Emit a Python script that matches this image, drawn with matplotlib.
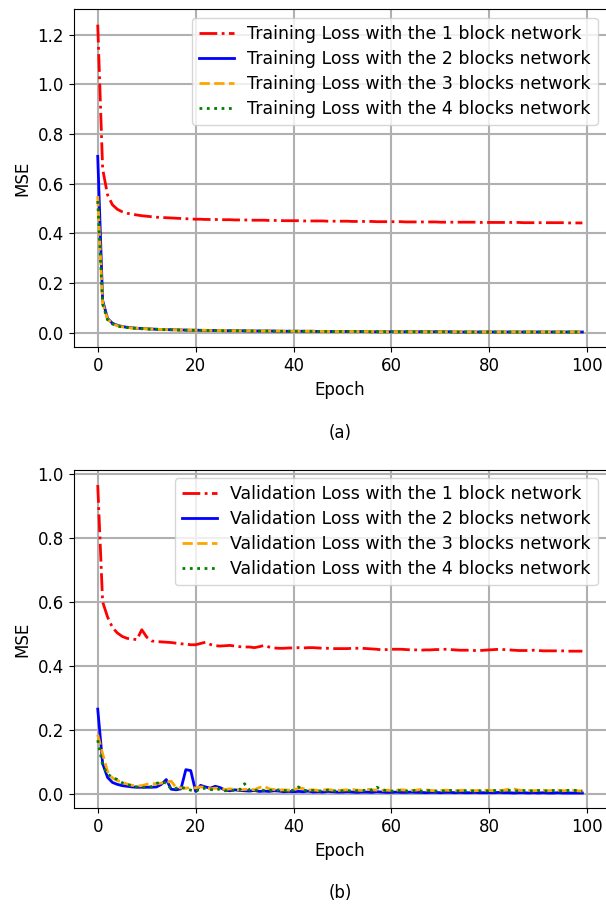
import numpy as np
import matplotlib
matplotlib.use("Agg")
import matplotlib.pyplot as plt

plt.rcParams["font.family"] = "DejaVu Sans"
plt.rcParams["font.size"] = 12

epochs = np.arange(100)

# training loss, one array per network size
train_1 = [1.24, 0.66, 0.555, 0.515, 0.497, 0.487, 0.481, 0.477, 0.474, 0.471,
           0.469, 0.467, 0.465, 0.464, 0.463, 0.462, 0.461, 0.460, 0.459, 0.458,
           0.457, 0.457, 0.456, 0.456, 0.456, 0.455, 0.455, 0.455, 0.454, 0.454,
           0.454, 0.453, 0.453, 0.453, 0.453, 0.452, 0.452, 0.452, 0.451, 0.451,
           0.451, 0.451, 0.450, 0.450, 0.450, 0.450, 0.450, 0.449, 0.449, 0.449,
           0.449, 0.449, 0.448, 0.448, 0.448, 0.448, 0.448, 0.447, 0.447, 0.447,
           0.447, 0.447, 0.447, 0.446, 0.446, 0.446, 0.446, 0.446, 0.446, 0.446,
           0.445, 0.445, 0.445, 0.445, 0.445, 0.445, 0.445, 0.445, 0.444, 0.444,
           0.444, 0.444, 0.444, 0.444, 0.444, 0.444, 0.444, 0.443, 0.443, 0.443,
           0.443, 0.443, 0.443, 0.443, 0.443, 0.443, 0.442, 0.442, 0.442, 0.442]
train_2 = [0.71, 0.13, 0.058, 0.038, 0.030, 0.025, 0.022, 0.020, 0.018, 0.017,
           0.016, 0.015, 0.014, 0.013, 0.013, 0.012, 0.012, 0.011, 0.011, 0.010,
           0.010, 0.010, 0.009, 0.009, 0.009, 0.009, 0.008, 0.008, 0.008, 0.008,
           0.008, 0.007, 0.007, 0.007, 0.007, 0.007, 0.007, 0.006, 0.006, 0.006,
           0.006, 0.006, 0.006, 0.006, 0.006, 0.005, 0.005, 0.005, 0.005, 0.005,
           0.005, 0.005, 0.005, 0.005, 0.005, 0.005, 0.004, 0.004, 0.004, 0.004,
           0.004, 0.004, 0.004, 0.004, 0.004, 0.004, 0.004, 0.004, 0.004, 0.004,
           0.004, 0.004, 0.004, 0.003, 0.003, 0.003, 0.003, 0.003, 0.003, 0.003,
           0.003, 0.003, 0.003, 0.003, 0.003, 0.003, 0.003, 0.003, 0.003, 0.003,
           0.003, 0.003, 0.003, 0.003, 0.003, 0.003, 0.003, 0.003, 0.003, 0.003]
train_3 = [0.55, 0.12, 0.055, 0.036, 0.028, 0.024, 0.021, 0.019, 0.018, 0.017,
           0.016, 0.015, 0.014, 0.013, 0.013, 0.012, 0.012, 0.011, 0.011, 0.011,
           0.010, 0.010, 0.010, 0.009, 0.009, 0.009, 0.009, 0.008, 0.008, 0.008,
           0.008, 0.008, 0.007, 0.007, 0.007, 0.007, 0.007, 0.007, 0.006, 0.006,
           0.006, 0.006, 0.006, 0.006, 0.006, 0.006, 0.005, 0.005, 0.005, 0.005,
           0.005, 0.005, 0.005, 0.005, 0.005, 0.005, 0.005, 0.004, 0.004, 0.004,
           0.004, 0.004, 0.004, 0.004, 0.004, 0.004, 0.004, 0.004, 0.004, 0.004,
           0.004, 0.004, 0.004, 0.004, 0.004, 0.003, 0.003, 0.003, 0.003, 0.003,
           0.003, 0.003, 0.003, 0.003, 0.003, 0.003, 0.003, 0.003, 0.003, 0.003,
           0.003, 0.003, 0.003, 0.003, 0.003, 0.003, 0.003, 0.003, 0.003, 0.003]
train_4 = [0.53, 0.115, 0.052, 0.035, 0.027, 0.023, 0.021, 0.019, 0.017, 0.016,
           0.015, 0.014, 0.014, 0.013, 0.012, 0.012, 0.011, 0.011, 0.010, 0.010,
           0.010, 0.009, 0.009, 0.009, 0.009, 0.008, 0.008, 0.008, 0.008, 0.008,
           0.007, 0.007, 0.007, 0.007, 0.007, 0.007, 0.006, 0.006, 0.006, 0.006,
           0.006, 0.006, 0.006, 0.006, 0.005, 0.005, 0.005, 0.005, 0.005, 0.005,
           0.005, 0.005, 0.005, 0.005, 0.005, 0.004, 0.004, 0.004, 0.004, 0.004,
           0.004, 0.004, 0.004, 0.004, 0.004, 0.004, 0.004, 0.004, 0.004, 0.004,
           0.004, 0.004, 0.003, 0.003, 0.003, 0.003, 0.003, 0.003, 0.003, 0.003,
           0.003, 0.003, 0.003, 0.003, 0.003, 0.003, 0.003, 0.003, 0.003, 0.003,
           0.003, 0.003, 0.003, 0.003, 0.003, 0.003, 0.003, 0.003, 0.003, 0.003]

# validation loss
val_1 = [0.965, 0.600, 0.553, 0.520, 0.503, 0.492, 0.486, 0.484, 0.482, 0.513,
         0.490, 0.478, 0.476, 0.475, 0.474, 0.473, 0.471, 0.469, 0.468, 0.466,
         0.466, 0.470, 0.474, 0.467, 0.463, 0.462, 0.463, 0.464, 0.462, 0.460,
         0.459, 0.459, 0.457, 0.460, 0.464, 0.459, 0.456, 0.455, 0.455, 0.456,
         0.456, 0.457, 0.456, 0.457, 0.457, 0.456, 0.455, 0.455, 0.454, 0.454,
         0.454, 0.454, 0.455, 0.455, 0.455, 0.454, 0.453, 0.452, 0.450, 0.451,
         0.452, 0.452, 0.452, 0.451, 0.450, 0.450, 0.449, 0.450, 0.450, 0.451,
         0.451, 0.452, 0.451, 0.450, 0.449, 0.449, 0.449, 0.448, 0.448, 0.449,
         0.450, 0.451, 0.452, 0.451, 0.450, 0.449, 0.448, 0.448, 0.448, 0.449,
         0.448, 0.447, 0.447, 0.447, 0.447, 0.447, 0.446, 0.446, 0.446, 0.446]
val_2 = [0.265, 0.095, 0.052, 0.036, 0.030, 0.026, 0.024, 0.022, 0.021, 0.021,
         0.021, 0.021, 0.022, 0.030, 0.045, 0.015, 0.013, 0.016, 0.076, 0.073,
         0.008, 0.027, 0.022, 0.018, 0.024, 0.020, 0.012, 0.010, 0.013, 0.011,
         0.010, 0.009, 0.011, 0.008, 0.009, 0.008, 0.010, 0.009, 0.007, 0.008,
         0.007, 0.008, 0.007, 0.009, 0.006, 0.007, 0.006, 0.008, 0.007, 0.006,
         0.006, 0.007, 0.006, 0.005, 0.006, 0.006, 0.005, 0.007, 0.006, 0.005,
         0.005, 0.006, 0.005, 0.005, 0.006, 0.005, 0.005, 0.004, 0.005, 0.005,
         0.004, 0.005, 0.005, 0.004, 0.005, 0.004, 0.004, 0.005, 0.004, 0.004,
         0.004, 0.004, 0.005, 0.004, 0.004, 0.003, 0.004, 0.004, 0.003, 0.004,
         0.003, 0.004, 0.003, 0.003, 0.004, 0.003, 0.003, 0.003, 0.003, 0.003]
val_3 = [0.185, 0.125, 0.070, 0.050, 0.042, 0.037, 0.031, 0.027, 0.025, 0.026,
         0.030, 0.033, 0.031, 0.034, 0.036, 0.040, 0.020, 0.019, 0.018, 0.020,
         0.019, 0.022, 0.021, 0.016, 0.018, 0.017, 0.014, 0.016, 0.015, 0.013,
         0.014, 0.015, 0.013, 0.020, 0.024, 0.016, 0.014, 0.012, 0.013, 0.012,
         0.013, 0.018, 0.017, 0.012, 0.013, 0.011, 0.012, 0.014, 0.012, 0.011,
         0.012, 0.013, 0.014, 0.012, 0.011, 0.015, 0.013, 0.012, 0.011, 0.012,
         0.011, 0.012, 0.013, 0.012, 0.011, 0.012, 0.014, 0.013, 0.011, 0.010,
         0.011, 0.012, 0.011, 0.010, 0.011, 0.012, 0.011, 0.010, 0.011, 0.012,
         0.011, 0.010, 0.011, 0.012, 0.015, 0.016, 0.012, 0.010, 0.011, 0.010,
         0.011, 0.012, 0.010, 0.011, 0.012, 0.010, 0.011, 0.012, 0.010, 0.009]
val_4 = [0.168, 0.090, 0.062, 0.052, 0.045, 0.035, 0.030, 0.025, 0.022, 0.021,
         0.021, 0.023, 0.033, 0.038, 0.034, 0.015, 0.018, 0.021, 0.017, 0.012,
         0.008, 0.016, 0.018, 0.014, 0.012, 0.016, 0.010, 0.012, 0.011, 0.013,
         0.032, 0.012, 0.010, 0.014, 0.011, 0.012, 0.010, 0.013, 0.011, 0.010,
         0.012, 0.022, 0.012, 0.010, 0.011, 0.009, 0.010, 0.012, 0.010, 0.009,
         0.010, 0.011, 0.009, 0.010, 0.012, 0.010, 0.013, 0.021, 0.014, 0.010,
         0.009, 0.010, 0.011, 0.009, 0.010, 0.011, 0.009, 0.010, 0.011, 0.009,
         0.010, 0.009, 0.011, 0.010, 0.009, 0.010, 0.011, 0.009, 0.010, 0.009,
         0.010, 0.011, 0.009, 0.010, 0.011, 0.009, 0.010, 0.011, 0.009, 0.010,
         0.011, 0.009, 0.010, 0.011, 0.009, 0.010, 0.011, 0.012, 0.010, 0.009]

styles = [("red", "-."), ("blue", "-"), ("orange", "--"), ("green", ":")]
block_names = ["1 block", "2 blocks", "3 blocks", "4 blocks"]

fig = plt.figure(figsize=(6.06, 9.06), dpi=100)
ax_a = fig.add_axes([0.1213, 0.6166, 0.8797, 0.3731])
ax_b = fig.add_axes([0.1213, 0.1077, 0.8797, 0.3740])

panels = [(ax_a, "Training", [train_1, train_2, train_3, train_4], "(a)"),
          (ax_b, "Validation", [val_1, val_2, val_3, val_4], "(b)")]

for ax, kind, series, tag in panels:
    for (col, ls), name, vals in zip(styles, block_names, series):
        ax.plot(epochs, vals, color=col, linestyle=ls, linewidth=2,
                label=kind + " Loss with the " + name + " network")
    ax.grid(True, linewidth=1.5)
    ax.set_xlabel("Epoch")
    ax.set_ylabel("MSE")
    ax.legend(loc="upper right", fontsize=12.5, labelspacing=0.4)

fig.text(0.561, 1 - 433 / 906, "(a)", ha="center", va="center")
fig.text(0.561, 1 - 893 / 906, "(b)", ha="center", va="center")

plt.savefig("out.png", dpi=100)
